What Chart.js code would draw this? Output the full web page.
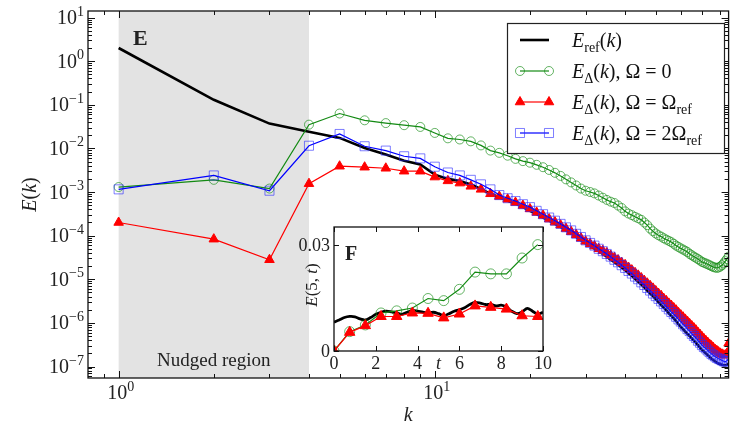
<!DOCTYPE html>
<html>
<head>
<meta charset="utf-8">
<script src="https://cdn.jsdelivr.net/npm/chart.js@4.4.1/dist/chart.umd.min.js"></script>
<style>
  body { margin: 0; background: #fff; }
  #wrap { position: relative; width: 736px; height: 425px; }
  #main-canvas { position: absolute; left: 0; top: 0; }
  #inset-canvas { position: absolute; left: 290px; top: 214px; }
</style>
</head>
<body>
<div id="wrap">
  <canvas id="main-canvas" width="736" height="425"></canvas>
  <canvas id="inset-canvas" width="270" height="170"></canvas>
</div>
<script>
    // Wavenumbers k = 1..85
    let k_values = Array.from({length: 85}, (_, i) => i + 1);

    // E_ref(k)
    let e_ref = [
      2.0, 0.13, 3.7e-2, 2.4e-2, 1.74e-2, 1.02e-2, 7.2e-3, 5.2e-3, 4.3e-3, 2.5e-3,
      2.0e-3, 1.78e-3, 1.48e-3, 1.17e-3, 9.1e-4, 7.6e-4, 6.3e-4, 5.4e-4, 4.5e-4, 3.7e-4,
      3.1e-4, 2.6e-4, 2.2e-4, 1.86e-4, 1.58e-4, 1.32e-4, 1.12e-4, 9.3e-5, 7.9e-5, 6.6e-5,
      5.8e-5, 5.0e-5, 4.4e-5, 3.8e-5, 3.3e-5, 2.8e-5, 2.45e-5, 2.14e-5, 1.86e-5, 1.62e-5,
      1.38e-5, 1.20e-5, 1.02e-5, 8.7e-6, 7.6e-6, 6.5e-6, 5.5e-6, 4.7e-6, 4.1e-6, 3.5e-6,
      3.0e-6, 2.57e-6, 2.24e-6, 1.95e-6, 1.66e-6, 1.45e-6, 1.26e-6, 1.10e-6, 9.3e-7, 8.1e-7,
      7.2e-7, 6.3e-7, 5.6e-7, 5.0e-7, 4.4e-7, 3.9e-7, 3.5e-7, 3.1e-7, 2.7e-7, 2.4e-7,
      2.2e-7, 2.0e-7, 1.82e-7, 1.66e-7, 1.51e-7, 1.41e-7, 1.32e-7, 1.23e-7, 1.17e-7, 1.12e-7,
      1.10e-7, 1.07e-7, 1.07e-7, 1.10e-7, 1.15e-7
    ];

    // E_Delta(k), Omega = 0
    let e_omega0 = [
      1.3e-3, 1.9e-3, 1.2e-3, 3.5e-2, 6.3e-2, 4.4e-2, 3.8e-2, 3.4e-2, 3.1e-2, 2.26e-2,
      1.7e-2, 1.6e-2, 1.45e-2, 1.17e-2, 8.9e-3, 7.9e-3, 6.8e-3, 5.75e-3, 5.1e-3, 4.7e-3,
      4.2e-3, 3.7e-3, 3.2e-3, 2.75e-3, 2.34e-3, 1.95e-3, 1.66e-3, 1.41e-3, 1.20e-3, 1.07e-3,
      1.0e-3, 9.3e-4, 8.3e-4, 7.4e-4, 6.6e-4, 6.0e-4, 5.6e-4, 4.9e-4, 4.3e-4, 3.6e-4,
      3.2e-4, 2.95e-4, 2.7e-4, 2.5e-4, 2.3e-4, 2.0e-4, 1.74e-4, 1.45e-4, 1.26e-4, 1.12e-4,
      1.02e-4, 9.5e-5, 8.7e-5, 8.1e-5, 7.6e-5, 7.1e-5, 6.5e-5, 5.9e-5, 5.5e-5, 5.1e-5,
      4.8e-5, 4.5e-5, 4.2e-5, 3.8e-5, 3.55e-5, 3.3e-5, 3.1e-5, 2.9e-5, 2.7e-5, 2.5e-5,
      2.4e-5, 2.3e-5, 2.2e-5, 2.1e-5, 2.0e-5, 1.91e-5, 1.86e-5, 1.82e-5, 1.86e-5, 1.95e-5,
      2.1e-5, 2.3e-5, 2.6e-5, 2.9e-5, 3.3e-5
    ];

    // E_Delta(k), Omega = Omega_ref
    let e_omega1 = [
      2.0e-4, 8.3e-5, 2.8e-5, 1.55e-3, 3.9e-3, 3.7e-3, 3.5e-3, 3.0e-3, 3.0e-3, 2.2e-3,
      1.8e-3, 1.6e-3, 1.35e-3, 1.15e-3, 9.1e-4, 7.9e-4, 6.8e-4, 5.75e-4, 4.9e-4, 4.1e-4,
      3.4e-4, 2.9e-4, 2.4e-4, 2.04e-4, 1.74e-4, 1.45e-4, 1.23e-4, 1.05e-4, 8.7e-5, 7.4e-5,
      6.5e-5, 5.75e-5, 5.0e-5, 4.5e-5, 4.0e-5, 3.5e-5, 3.1e-5, 2.75e-5, 2.4e-5, 2.14e-5,
      1.86e-5, 1.62e-5, 1.41e-5, 1.23e-5, 1.07e-5, 9.3e-6, 8.1e-6, 7.1e-6, 6.2e-6, 5.4e-6,
      4.7e-6, 4.2e-6, 3.6e-6, 3.2e-6, 2.8e-6, 2.5e-6, 2.2e-6, 1.95e-6, 1.7e-6, 1.51e-6,
      1.35e-6, 1.2e-6, 1.07e-6, 9.5e-7, 8.5e-7, 7.6e-7, 6.8e-7, 6.0e-7, 5.4e-7, 4.8e-7,
      4.3e-7, 3.9e-7, 3.55e-7, 3.2e-7, 2.95e-7, 2.7e-7, 2.45e-7, 2.3e-7, 2.14e-7, 2.0e-7,
      1.91e-7, 1.82e-7, 1.82e-7, 2.0e-7, 3.4e-7
    ];

    // E_Delta(k), Omega = 2 Omega_ref
    let e_omega2 = [
      1.15e-3, 2.4e-3, 1.07e-3, 1.15e-2, 2.14e-2, 1.12e-2, 8.9e-3, 6.6e-3, 5.9e-3, 3.8e-3,
      2.8e-3, 2.4e-3, 1.9e-3, 1.5e-3, 1.15e-3, 8.5e-4, 7.2e-4, 6.2e-4, 5.25e-4, 4.5e-4,
      3.7e-4, 3.1e-4, 2.6e-4, 2.2e-4, 1.86e-4, 1.55e-4, 1.32e-4, 1.10e-4, 9.3e-5, 7.8e-5,
      6.8e-5, 5.9e-5, 5.0e-5, 4.4e-5, 3.8e-5, 3.3e-5, 2.8e-5, 2.45e-5, 2.1e-5, 1.82e-5,
      1.55e-5, 1.35e-5, 1.15e-5, 1.0e-5, 8.5e-6, 7.4e-6, 6.3e-6, 5.5e-6, 4.7e-6, 4.1e-6,
      3.55e-6, 3.1e-6, 2.7e-6, 2.34e-6, 2.04e-6, 1.78e-6, 1.58e-6, 1.38e-6, 1.2e-6, 1.07e-6,
      9.3e-7, 8.3e-7, 7.2e-7, 6.5e-7, 5.6e-7, 5.0e-7, 4.5e-7, 3.9e-7, 3.5e-7, 3.1e-7,
      2.8e-7, 2.6e-7, 2.34e-7, 2.14e-7, 1.95e-7, 1.82e-7, 1.7e-7, 1.58e-7, 1.51e-7, 1.45e-7,
      1.38e-7, 1.32e-7, 1.29e-7, 1.35e-7, 1.55e-7
    ];

    // Nudged region and axis ticks (decade exponents)
    let nudged_k = [1, 4];
    let x_tick_exps = [0, 1];
    let y_tick_exps = [-7, -6, -5, -4, -3, -2, -1, 0, 1];

    // Inset F: E(5,t)
    let t_nudged = [0, 0.75, 1.5, 2.25, 3, 3.75, 4.5, 5.25, 6, 6.75, 7.5, 8.25, 9, 9.75];
    let e5_omega0 = [0, 0.0055, 0.0074, 0.0108, 0.0114, 0.0122, 0.0149, 0.0143, 0.0175, 0.0224, 0.0219, 0.0219, 0.0264, 0.0302];
    let e5_omega1 = [0, 0.0053, 0.0072, 0.0098, 0.0098, 0.0108, 0.0107, 0.0094, 0.0105, 0.0128, 0.0124, 0.0119, 0.0100, 0.0098];
    let t_ref = [0, 0.25, 0.5, 0.75, 1, 1.25, 1.5, 1.75, 2, 2.25, 2.5, 2.75, 3, 3.25, 3.5, 3.75, 4, 4.25, 4.5, 4.75,
                 5, 5.25, 5.5, 5.75, 6, 6.25, 6.5, 6.75, 7, 7.25, 7.5, 7.75, 8, 8.25, 8.5, 8.75, 9, 9.25, 9.5, 9.75, 10];
    let e5_ref = [0.0082, 0.0088, 0.0095, 0.0098, 0.0097, 0.0091, 0.0088, 0.0095, 0.0104, 0.0110,
                  0.0113, 0.0111, 0.0108, 0.0104, 0.0110, 0.0115, 0.0113, 0.0110, 0.0108, 0.0110,
                  0.0106, 0.0100, 0.0106, 0.0113, 0.0117, 0.0123, 0.0132, 0.0138, 0.0136, 0.0132,
                  0.0132, 0.0128, 0.0130, 0.0125, 0.0113, 0.0106, 0.0111, 0.0121, 0.0113, 0.0104, 0.0110];
    let inset_x_ticks = [0, 2, 4, 6, 8, 10];
    let inset_y_ticks = [0, 0.03];
    let inset_y_labels = ['0', '0.03'];

    // ---- text helpers (poor man's mathtext) ----
    const SERIF = '"Liberation Serif", "DejaVu Serif", serif';
    function part_font(style, size) {
      if (style === 'i') return 'italic ' + size + 'px ' + SERIF;
      if (style === 'b') return 'bold ' + size + 'px ' + SERIF;
      if (style === 'sup' || style === 'sub') return Math.round(size * 0.7) + 'px ' + SERIF;
      return size + 'px ' + SERIF;
    }
    function part_shift(style, size) {
      if (style === 'sup') return -0.42 * size;
      if (style === 'sub') return 0.25 * size;
      return 0;
    }
    function math_width(ctx, parts, size) {
      let w = 0;
      for (const [t, s] of parts) { ctx.font = part_font(s, size); w += ctx.measureText(t).width; }
      return w;
    }
    function draw_math(ctx, parts, x, y, size, align) {
      let w = math_width(ctx, parts, size);
      let cx = align === 'center' ? x - w / 2 : (align === 'right' ? x - w : x);
      ctx.textAlign = 'left';
      ctx.textBaseline = 'alphabetic';
      for (const [t, s] of parts) {
        ctx.font = part_font(s, size);
        ctx.fillText(t, cx, y + part_shift(s, size));
        cx += ctx.measureText(t).width;
      }
    }
    function exp_str(e) { return e < 0 ? '\u2212' + Math.abs(e) : String(e); }

    // simple marker drawing for the hand made legend
    function draw_marker(ctx, ds, x, y) {
      let r = ds.pointRadius;
      ctx.beginPath();
      if (ds.pointStyle === 'circle') {
        ctx.arc(x, y, r, 0, Math.PI * 2);
      } else if (ds.pointStyle === 'triangle') {
        ctx.moveTo(x, y - r);
        ctx.lineTo(x + r * Math.sin(Math.PI * 2 / 3), y + r / 2);
        ctx.lineTo(x - r * Math.sin(Math.PI * 2 / 3), y + r / 2);
        ctx.closePath();
      } else if (ds.pointStyle === 'rect') {
        let s = r * Math.SQRT1_2;
        ctx.rect(x - s, y - s, 2 * s, 2 * s);
      }
      if (ds.pointBackgroundColor && ds.pointBackgroundColor !== 'transparent') {
        ctx.fillStyle = ds.pointBackgroundColor;
        ctx.fill();
      }
      ctx.lineWidth = ds.pointBorderWidth;
      ctx.strokeStyle = ds.pointBorderColor;
      ctx.stroke();
    }

    function xy(xs, ys) { return xs.map((x, i) => ({x: x, y: ys[i]})); }

    // ---- main chart ----
    let legend_parts = [
      [['E', 'i'], ['ref', 'sub'], ['(', 'r'], ['k', 'i'], [')', 'r']],
      [['E', 'i'], ['\u0394', 'sub'], ['(', 'r'], ['k', 'i'], [')', 'r'], [', ', 'r'], ['\u03A9', 'r'], [' = ', 'r'], ['0', 'r']],
      [['E', 'i'], ['\u0394', 'sub'], ['(', 'r'], ['k', 'i'], [')', 'r'], [', ', 'r'], ['\u03A9', 'r'], [' = ', 'r'], ['\u03A9', 'r'], ['ref', 'sub']],
      [['E', 'i'], ['\u0394', 'sub'], ['(', 'r'], ['k', 'i'], [')', 'r'], [', ', 'r'], ['\u03A9', 'r'], [' = ', 'r'], ['2\u03A9', 'r'], ['ref', 'sub']]
    ];

    let main_decor = {
      id: 'main_decor',
      beforeDatasetsDraw(chart) {
        let ctx = chart.ctx, a = chart.chartArea, xs = chart.scales.x;
        let x0 = xs.getPixelForValue(nudged_k[0]), x1 = xs.getPixelForValue(nudged_k[1]);
        ctx.save();
        ctx.fillStyle = '#e3e3e3';
        ctx.fillRect(x0, a.top, x1 - x0, a.bottom - a.top);
        ctx.restore();
      },
      afterDatasetsDraw(chart) {
        let ctx = chart.ctx, a = chart.chartArea, xs = chart.scales.x, ys = chart.scales.y;
        ctx.save();
        ctx.strokeStyle = '#111';
        ctx.lineWidth = 1;

        // inward ticks on all four sides
        ctx.beginPath();
        let x_minor = [0.9];
        for (let d = 0; d <= 1; d++) for (let m = 2; m <= 9; m++) x_minor.push(m * Math.pow(10, d));
        for (const e of x_tick_exps) {
          let px = Math.round(xs.getPixelForValue(Math.pow(10, e))) + 0.5;
          ctx.moveTo(px, a.bottom); ctx.lineTo(px, a.bottom - 7);
          ctx.moveTo(px, a.top); ctx.lineTo(px, a.top + 7);
        }
        for (const v of x_minor) {
          if (v <= xs.min || v >= xs.max) continue;
          let px = Math.round(xs.getPixelForValue(v)) + 0.5;
          ctx.moveTo(px, a.bottom); ctx.lineTo(px, a.bottom - 4);
          ctx.moveTo(px, a.top); ctx.lineTo(px, a.top + 4);
        }
        for (const e of y_tick_exps) {
          let py = Math.round(ys.getPixelForValue(Math.pow(10, e))) + 0.5;
          ctx.moveTo(a.left, py); ctx.lineTo(a.left + 7, py);
          ctx.moveTo(a.right, py); ctx.lineTo(a.right - 7, py);
        }
        for (let d = -8; d <= 1; d++) {
          for (let m = 2; m <= 9; m++) {
            let v = m * Math.pow(10, d);
            if (v <= ys.min || v >= ys.max) continue;
            let py = Math.round(ys.getPixelForValue(v)) + 0.5;
            ctx.moveTo(a.left, py); ctx.lineTo(a.left + 4, py);
            ctx.moveTo(a.right, py); ctx.lineTo(a.right - 4, py);
          }
        }
        ctx.stroke();

        // frame
        ctx.lineWidth = 1.3;
        ctx.strokeRect(a.left, a.top, a.right - a.left, a.bottom - a.top);

        // tick labels
        ctx.fillStyle = '#222';
        for (const e of x_tick_exps) {
          draw_math(ctx, [['10', 'r'], [exp_str(e), 'sup']], xs.getPixelForValue(Math.pow(10, e)) + 2, a.bottom + 21, 20, 'center');
        }
        for (const e of y_tick_exps) {
          draw_math(ctx, [['10', 'r'], [exp_str(e), 'sup']], a.left - 4, ys.getPixelForValue(Math.pow(10, e)) + 6.5, 20, 'right');
        }

        // axis titles
        draw_math(ctx, [['k', 'i']], (a.left + a.right) / 2, a.bottom + 43, 20, 'center');
        ctx.save();
        ctx.translate(36, (a.top + a.bottom) / 2);
        ctx.rotate(-Math.PI / 2);
        draw_math(ctx, [['E', 'i'], ['(', 'r'], ['k', 'i'], [')', 'r']], 0, 0, 20, 'center');
        ctx.restore();

        // panel letter and region text
        draw_math(ctx, [['E', 'b']], 133, 45, 22, 'left');
        let xn = (xs.getPixelForValue(nudged_k[0]) + xs.getPixelForValue(nudged_k[1])) / 2;
        draw_math(ctx, [['Nudged region', 'r']], xn, a.bottom - 12, 19, 'center');

        // legend box
        let lx = 507.5, ly = 23.5, lw = 217, lh = 130;
        ctx.fillStyle = '#fff';
        ctx.fillRect(lx, ly, lw, lh);
        ctx.strokeStyle = '#222';
        ctx.lineWidth = 1.2;
        ctx.strokeRect(lx, ly, lw, lh);
        let order = [0, 1, 2, 3];
        order.forEach((di, row) => {
          let ds = chart.data.datasets[di];
          let cy = 40 + row * 31;
          ctx.beginPath();
          ctx.moveTo(520, cy); ctx.lineTo(549, cy);
          ctx.strokeStyle = ds.borderColor;
          ctx.lineWidth = ds.borderWidth;
          ctx.stroke();
          if (ds.pointRadius > 0) {
            draw_marker(ctx, ds, 520, cy);
            draw_marker(ctx, ds, 549, cy);
          }
          ctx.fillStyle = '#111';
          draw_math(ctx, legend_parts[row], 572, cy + 7, 20, 'left');
        });
        ctx.restore();
      }
    };

    let main_ctx = document.getElementById('main-canvas').getContext('2d');
    let main_chart = new Chart(main_ctx, {
      type: 'line',
      data: {
        datasets: [
          { label: 'E_ref(k)', data: xy(k_values, e_ref), borderColor: '#000', borderWidth: 2.6,
            pointRadius: 0, order: 4 },
          { label: 'Omega = 0', data: xy(k_values, e_omega0), borderColor: '#138a13', borderWidth: 1.2,
            pointStyle: 'circle', pointRadius: 4.5, pointBorderWidth: 1,
            pointBorderColor: 'rgba(20,140,20,0.65)', pointBackgroundColor: 'transparent', order: 3 },
          { label: 'Omega = Omega_ref', data: xy(k_values, e_omega1), borderColor: '#ff0000', borderWidth: 1.2,
            pointStyle: 'triangle', pointRadius: 5.5, pointBorderWidth: 1,
            pointBorderColor: '#ff0000', pointBackgroundColor: '#ff0000', order: 2 },
          { label: 'Omega = 2 Omega_ref', data: xy(k_values, e_omega2), borderColor: '#0000ff', borderWidth: 1.2,
            pointStyle: 'rect', pointRadius: 6.4, pointBorderWidth: 1,
            pointBorderColor: 'rgba(40,40,255,0.6)', pointBackgroundColor: 'transparent', order: 1 }
        ]
      },
      options: {
        responsive: false,
        animation: false,
        events: [],
        layout: { padding: { top: 11, right: 3, left: 0, bottom: 0 } },
        plugins: { legend: { display: false }, tooltip: { enabled: false } },
        scales: {
          x: { type: 'logarithmic', min: 0.8, max: 85,
               ticks: { display: false }, grid: { display: false }, border: { display: false },
               afterFit: s => { s.height = 47; } },
          y: { type: 'logarithmic', min: 5.45e-8, max: 14.1,
               ticks: { display: false }, grid: { display: false }, border: { display: false },
               afterFit: s => { s.width = 88; } }
        }
      },
      plugins: [main_decor]
    });

    // ---- inset chart F ----
    let inset_decor = {
      id: 'inset_decor',
      beforeDatasetsDraw(chart) {
        let ctx = chart.ctx, a = chart.chartArea;
        ctx.save();
        ctx.fillStyle = '#fff';
        ctx.fillRect(a.left, a.top, a.right - a.left, a.bottom - a.top);
        ctx.restore();
      },
      afterDatasetsDraw(chart) {
        let ctx = chart.ctx, a = chart.chartArea, xs = chart.scales.x, ys = chart.scales.y;
        ctx.save();
        ctx.strokeStyle = '#111';
        ctx.lineWidth = 1;
        ctx.beginPath();
        for (const v of inset_x_ticks) {
          let px = Math.round(xs.getPixelForValue(v)) + 0.5;
          ctx.moveTo(px, a.bottom); ctx.lineTo(px, a.bottom - 5);
          ctx.moveTo(px, a.top); ctx.lineTo(px, a.top + 5);
        }
        for (const v of inset_y_ticks) {
          let py = Math.round(ys.getPixelForValue(v)) + 0.5;
          ctx.moveTo(a.left, py); ctx.lineTo(a.left + 5, py);
          ctx.moveTo(a.right, py); ctx.lineTo(a.right - 5, py);
        }
        ctx.stroke();
        ctx.lineWidth = 1.3;
        ctx.strokeRect(a.left, a.top, a.right - a.left, a.bottom - a.top);

        ctx.fillStyle = '#222';
        for (const v of inset_x_ticks) {
          draw_math(ctx, [[String(v), 'r']], xs.getPixelForValue(v), a.bottom + 17.5, 18, 'center');
        }
        inset_y_ticks.forEach((v, i) => {
          draw_math(ctx, [[inset_y_labels[i], 'r']], a.left - 4, ys.getPixelForValue(v) + 6, 18, 'right');
        });
        draw_math(ctx, [['t', 'i']], xs.getPixelForValue(5), a.bottom + 17.5, 18, 'center');
        ctx.save();
        ctx.translate(a.left - 17, a.top + 58);
        ctx.rotate(-Math.PI / 2);
        draw_math(ctx, [['E', 'i'], ['(5, ', 'r'], ['t', 'i'], [')', 'r']], 0, 0, 17, 'center');
        ctx.restore();
        draw_math(ctx, [['F', 'b']], a.left + 11, a.top + 33, 20, 'left');
        ctx.restore();
      }
    };

    let inset_ctx = document.getElementById('inset-canvas').getContext('2d');
    let inset_chart = new Chart(inset_ctx, {
      type: 'line',
      data: {
        datasets: [
          { data: xy(t_ref, e5_ref), borderColor: '#000', borderWidth: 2.8, pointRadius: 0,
            tension: 0.3, order: 3 },
          { data: xy(t_nudged, e5_omega0), borderColor: '#138a13', borderWidth: 1.2,
            pointStyle: 'circle', pointRadius: 5, pointBorderWidth: 1,
            pointBorderColor: 'rgba(20,140,20,0.65)', pointBackgroundColor: 'transparent', order: 2 },
          { data: xy(t_nudged, e5_omega1), borderColor: '#ff0000', borderWidth: 1.2,
            pointStyle: 'triangle', pointRadius: 6, pointBorderWidth: 1,
            pointBorderColor: '#ff0000', pointBackgroundColor: '#ff0000', order: 1 }
        ]
      },
      options: {
        responsive: false,
        animation: false,
        events: [],
        layout: { padding: { top: 13, right: 17, left: 0, bottom: 0 } },
        plugins: { legend: { display: false }, tooltip: { enabled: false } },
        scales: {
          x: { type: 'linear', min: 0, max: 10,
               ticks: { display: false }, grid: { display: false }, border: { display: false },
               afterFit: s => { s.height = 33; } },
          y: { type: 'linear', min: 0, max: 0.0352,
               ticks: { display: false }, grid: { display: false }, border: { display: false },
               afterFit: s => { s.width = 44; } }
        }
      },
      plugins: [inset_decor]
    });
</script>
</body>
</html>
